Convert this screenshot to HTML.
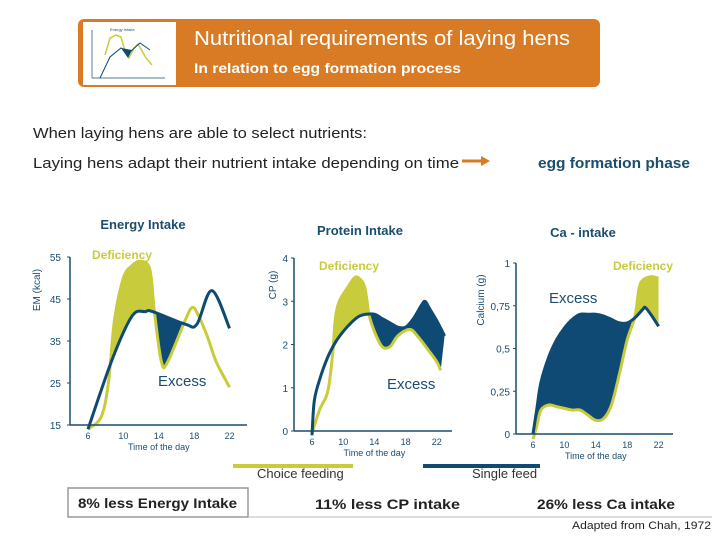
<!DOCTYPE html>
<html><head><meta charset="utf-8">
<style>
body{margin:0;width:720px;height:540px;background:#fff;overflow:hidden;font-family:"Liberation Sans",sans-serif;}
svg{position:absolute;left:0;top:0}
</style></head>
<body>
<svg id="s" width="720" height="540" viewBox="0 0 720 540">
  <rect x="78" y="19" width="522" height="68" rx="6" fill="#d97b24"/>
  <rect x="83" y="22" width="93" height="63" fill="#fff"/>
  <text x="110" y="31" font-size="4" fill="#1a4d6e">Energy Intake</text>
  <line x1="92" y1="30" x2="92" y2="78" stroke="#1a4d6e" stroke-width="0.7"/>
  <line x1="92" y1="78" x2="165" y2="78" stroke="#1a4d6e" stroke-width="0.7"/>
  <path d="M105 55 L110 38 L116 35 L121 37 L124 48 L129 58 L134 48 L138 44 L146 58 L152 65" fill="none" stroke="#c8cc3c" stroke-width="1.5"/>
  <path d="M100 78 L110 57 L121 48 L130 52 L140 43 L150 50" fill="none" stroke="#0e4a73" stroke-width="1"/>
  <polygon points="121,48 128,58 132,50" fill="#0e4a73"/>
  <text x="194" y="45" font-size="20" fill="#fff" textLength="376" lengthAdjust="spacingAndGlyphs">Nutritional requirements of laying hens</text>
  <text x="194" y="73" font-size="14" font-weight="bold" fill="#fff" textLength="267" lengthAdjust="spacingAndGlyphs">In relation to egg formation process</text>
  <text x="33" y="138" font-size="15" fill="#222" textLength="334" lengthAdjust="spacingAndGlyphs">When laying hens are able to select nutrients:</text>
  <text x="33" y="168" font-size="15" fill="#222" textLength="426" lengthAdjust="spacingAndGlyphs">Laying hens adapt their nutrient intake depending on time</text>
  <line x1="462" y1="161" x2="482" y2="161" stroke="#d97b24" stroke-width="3"/>
  <polygon points="481,156 490,161 481,166" fill="#d97b24"/>
  <text x="538" y="168" font-size="15" font-weight="bold" fill="#1a4d6e" textLength="152" lengthAdjust="spacingAndGlyphs">egg formation phase</text>

  <text x="143" y="229" font-size="13" font-weight="bold" fill="#1a4d6e" text-anchor="middle">Energy Intake</text>
  <text x="360" y="235" font-size="13" font-weight="bold" fill="#1a4d6e" text-anchor="middle">Protein Intake</text>
  <text x="583" y="237" font-size="13" font-weight="bold" fill="#1a4d6e" text-anchor="middle">Ca - intake</text>

  <text x="92" y="259" font-size="12" font-weight="bold" fill="#c8cc3c">Deficiency</text>
  <text x="319" y="270" font-size="12" font-weight="bold" fill="#c8cc3c">Deficiency</text>
  <text x="613" y="270" font-size="12" font-weight="bold" fill="#c8cc3c">Deficiency</text>
  <text x="158" y="386" font-size="15" fill="#1a4d6e">Excess</text>
  <text x="387" y="389" font-size="15" fill="#1a4d6e">Excess</text>
  <text x="549" y="303" font-size="15" fill="#1a4d6e">Excess</text>

  <text transform="translate(40,290) rotate(-90)" font-size="10" fill="#1a4d6e" text-anchor="middle">EM (kcal)</text>
  <text transform="translate(276,285) rotate(-90)" font-size="10" fill="#1a4d6e" text-anchor="middle">CP (g)</text>
  <text transform="translate(484,300) rotate(-90)" font-size="10" fill="#1a4d6e" text-anchor="middle">Calcium (g)</text>

  <line x1="233" y1="466" x2="353" y2="466" stroke="#c8cc3c" stroke-width="4"/>
  <text x="257" y="478" font-size="13" fill="#333">Choice feeding</text>
  <line x1="423" y1="466" x2="540" y2="466" stroke="#0e4a73" stroke-width="4"/>
  <text x="472" y="478" font-size="13" fill="#333">Single feed</text>

  <rect x="68" y="488" width="180" height="29" fill="none" stroke="#999" stroke-width="1.5"/>
  <line x1="248" y1="517" x2="712" y2="517" stroke="#bbb" stroke-width="1"/>
  <text x="78" y="508" font-size="14" font-weight="bold" fill="#222" textLength="159" lengthAdjust="spacingAndGlyphs">8% less Energy Intake</text>
  <text x="315" y="509" font-size="14" font-weight="bold" fill="#222" textLength="145" lengthAdjust="spacingAndGlyphs">11% less CP intake</text>
  <text x="537" y="509" font-size="14" font-weight="bold" fill="#222" textLength="138" lengthAdjust="spacingAndGlyphs">26% less Ca intake</text>
  <text x="572" y="529" font-size="11" fill="#222" textLength="139" lengthAdjust="spacingAndGlyphs">Adapted from Chah, 1972</text>
</svg>
<script>
const hoursTicks = [6,10,14,18,22];
const energyTicks = [15,25,35,45,55];
const energyTickLabels = ["15","25","35","45","55"];
const energySingleH = [6,8.8,11,12.5,13.3,17,18.3,20,22];
const energySingleV = [14,31,41,42,42,39,39,47,38];
const energyChoiceH = [6,7.5,8.3,9,10,11,12,13,13.5,14.3,15,17,17.8,18.5,19.5,20.5,22];
const energyChoiceV = [14,17,25,40,50,53,54,52,42,30,30,40,43,41,36,30,24];
const proteinTicks = [0,1,2,3,4];
const proteinTickLabels = ["0","1","2","3","4"];
const proteinSingleH = [6,6.3,7,8,9,10,11,12,13,14,15,16,17,18,19,20,20.5,21,22,23];
const proteinSingleV = [-0.1,0.7,1.2,1.7,2.05,2.3,2.5,2.65,2.7,2.7,2.6,2.5,2.4,2.4,2.6,2.9,3.0,2.85,2.55,2.2];
const proteinChoiceH = [6,7,8,8.6,9,9.5,10.5,11.5,12.2,12.8,13.3,14,15,16,17,18.5,19.5,21,22,22.5];
const proteinChoiceV = [-0.05,0.5,0.9,1.7,2.6,3.0,3.3,3.55,3.5,3.3,2.7,2.3,1.95,1.95,2.2,2.35,2.2,1.85,1.6,1.4];
const caTicks = [0,0.25,0.5,0.75,1];
const caTickLabels = ["0","0,25","0,5","0,75","1"];
const caSingleH = [6,6.5,7,8,9,10,11,12,13,14,15,16,17,18,19,20,20.3,21,22];
const caSingleV = [0,0.15,0.3,0.45,0.55,0.62,0.67,0.7,0.7,0.7,0.69,0.67,0.65,0.65,0.68,0.73,0.74,0.7,0.63];
const caChoiceH = [6,6.5,7,8,9,10,11,12,13,14,15,16,17,18,19,19.5,20,21,22];
const caChoiceV = [-0.03,0.05,0.14,0.17,0.16,0.15,0.14,0.14,0.11,0.08,0.09,0.17,0.35,0.55,0.69,0.85,0.9,0.92,0.91];

const NS="http://www.w3.org/2000/svg";
const svg=document.getElementById('s');
function mk(tag,attrs){const e=document.createElementNS(NS,tag);for(const k in attrs)e.setAttribute(k,attrs[k]);svg.appendChild(e);return e;}
function curve(pts){
  let d="";
  for(let i=0;i<pts.length-1;i++){
    const p0=pts[Math.max(0,i-1)],p1=pts[i],p2=pts[i+1],p3=pts[Math.min(pts.length-1,i+2)];
    const c1=[p1[0]+(p2[0]-p0[0])/6,p1[1]+(p2[1]-p0[1])/6];
    const c2=[p2[0]-(p3[0]-p1[0])/6,p2[1]-(p3[1]-p1[1])/6];
    d+=" C"+c1[0].toFixed(1)+","+c1[1].toFixed(1)+" "+c2[0].toFixed(1)+","+c2[1].toFixed(1)+" "+p2[0].toFixed(1)+","+p2[1].toFixed(1);
  }
  return d;
}
let clipId=0;
function chart(cfg){
  const xs=h=>cfg.x0+(h-6)*cfg.xk;
  const ys=v=>cfg.yBottom-(v-cfg.vMin)/(cfg.vMax-cfg.vMin)*(cfg.yBottom-cfg.yTop);
  const sp=cfg.sH.map((h,i)=>[xs(h),ys(cfg.sV[i])]);
  const cp=cfg.cH.map((h,i)=>[xs(h),ys(cfg.cV[i])]);
  const cPath="M"+cp[0][0]+","+cp[0][1]+curve(cp);
  const sRev=sp.slice().reverse();
  const between=cPath+" L"+sRev[0][0]+","+sRev[0][1]+curve(sRev)+" Z";
  cfg.fills.forEach(f=>{
    const id="clip"+(clipId++);
    const cl=document.createElementNS(NS,'clipPath');cl.setAttribute('id',id);
    const r=document.createElementNS(NS,'rect');
    r.setAttribute('x',xs(f.from));r.setAttribute('y',0);r.setAttribute('width',xs(f.to)-xs(f.from));r.setAttribute('height',540);
    cl.appendChild(r);svg.appendChild(cl);
    const p=mk('path',{d:between,fill:f.color,'clip-path':'url(#'+id+')'});
    
    
  });
  const cl=mk('path',{d:cPath,fill:'none',stroke:'#c8cc3c','stroke-width':3,'stroke-linejoin':'round'});
  
  
  const sl=mk('path',{d:"M"+sp[0][0]+","+sp[0][1]+curve(sp),fill:'none',stroke:'#0e4a73','stroke-width':3,'stroke-linejoin':'round'});
  
  
  const ya=mk('line',{x1:cfg.axisX,y1:cfg.yTop,x2:cfg.axisX,y2:cfg.yBottom,stroke:'#1a4d6e','stroke-width':1.5});
  
  
  const xa=mk('line',{x1:cfg.axisX,y1:cfg.yBottom,x2:cfg.xEnd,y2:cfg.yBottom,stroke:'#1a4d6e','stroke-width':1.5});
  
  
  cfg.ticks.forEach((v,i)=>{
    const t=mk('text',{x:cfg.axisX-cfg.labelGap,y:ys(v)+4,'font-size':10,fill:'#1a4d6e','text-anchor':'end'});
    t.textContent=cfg.tickLabels[i];
    
    
    mk('line',{x1:cfg.axisX-3,y1:ys(v),x2:cfg.axisX,y2:ys(v),stroke:'#1a4d6e'});
  });
  hoursTicks.forEach(h=>{
    const t=mk('text',{x:xs(h),y:cfg.yBottom+14,'font-size':9,fill:'#1a4d6e','text-anchor':'middle'});
    t.textContent=String(h);
    
    
  });
  const xt=mk('text',{x:(xs(10)+xs(18))/2,y:cfg.yBottom+25,'font-size':9,fill:'#1a4d6e','text-anchor':'middle'});
  xt.textContent="Time of the day";
  
  
}
chart({name:'energy',x0:88,xk:8.85,yTop:257,yBottom:425,vMin:15,vMax:55,axisX:70,xEnd:247,labelGap:9,
  ticks:energyTicks,tickLabels:energyTickLabels,sH:energySingleH,sV:energySingleV,cH:energyChoiceH,cV:energyChoiceV,
  fills:[{from:8.8,to:13.5,color:'#c8cc3c',label:'deficiency'},{from:13.5,to:17,color:'#0e4a73',label:'excess'}]});
chart({name:'protein',x0:312,xk:7.8,yTop:258,yBottom:431,vMin:0,vMax:4,axisX:294,xEnd:452,labelGap:6,
  ticks:proteinTicks,tickLabels:proteinTickLabels,sH:proteinSingleH,sV:proteinSingleV,cH:proteinChoiceH,cV:proteinChoiceV,
  fills:[{from:8.7,to:13.3,color:'#c8cc3c',label:'deficiency'},{from:13.3,to:23,color:'#0e4a73',label:'excess'}]});
chart({name:'ca',x0:533,xk:7.85,yTop:263,yBottom:434,vMin:0,vMax:1,axisX:516,xEnd:673,labelGap:6,
  ticks:caTicks,tickLabels:caTickLabels,sH:caSingleH,sV:caSingleV,cH:caChoiceH,cV:caChoiceV,
  fills:[{from:6,to:19,color:'#0e4a73',label:'excess'},{from:19,to:22,color:'#c8cc3c',label:'deficiency'}]});
</script>
</body></html>
